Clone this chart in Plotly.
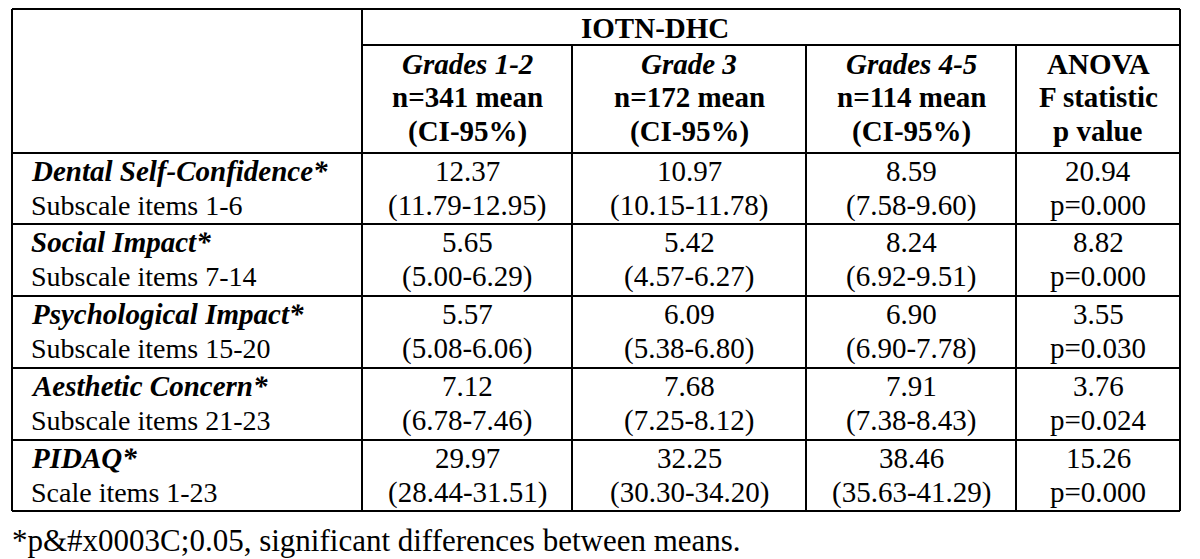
import plotly.graph_objects as go

# ---- data ----
categories = ["Dental Self-Confidence*", "Social Impact*", "Psychological Impact*",
              "Aesthetic Concern*", "PIDAQ*"]
subtitles = ["Subscale items 1-6", "Subscale items 7-14", "Subscale items 15-20",
             "Subscale items 21-23", "Scale items 1-23"]
group_names = ["Grades 1-2", "Grade 3", "Grades 4-5"]
group_n = [341, 172, 114]
means_g12 = [12.37, 5.65, 5.57, 7.12, 29.97]
ci_low_g12 = [11.79, 5.00, 5.08, 6.78, 28.44]
ci_high_g12 = [12.95, 6.29, 6.06, 7.46, 31.51]
means_g3 = [10.97, 5.42, 6.09, 7.68, 32.25]
ci_low_g3 = [10.15, 4.57, 5.38, 7.25, 30.30]
ci_high_g3 = [11.78, 6.27, 6.80, 8.12, 34.20]
means_g45 = [8.59, 8.24, 6.90, 7.91, 38.46]
ci_low_g45 = [7.58, 6.92, 6.90, 7.38, 35.63]
ci_high_g45 = [9.60, 9.51, 7.78, 8.43, 41.29]
f_stat = [20.94, 8.82, 3.55, 3.76, 15.26]
p_values = ["0.000", "0.000", "0.030", "0.024", "0.000"]
super_header = "IOTN-DHC"
anova_header = ["ANOVA", "F statistic", "p value"]
footnote = "*p&amp;#x0003C;0.05, significant differences between means."

# ---- layout geometry (page pixels) ----
W, H = 1200, 559
x_left, x_right = 12, 1180
col_x = [362, 572, 806, 1016]
col_centers = [467, 689, 911, 1098]
y_top, y_sub, y_head = 9, 45, 153
row_lines = [153, 224, 296, 368, 440, 511]
y_bottom = 511

FONT = "Liberation Serif, Times New Roman, serif"
FS_BODY = 28
FS_NUM = 29
FS_HEAD = 29
FS_GROUP = 29
FS_CAT = 29
FS_NOTE = 31
LW = 2

fig = go.Figure()
fig.add_trace(go.Scatter(x=[0, W], y=[0, H], mode="markers",
                         marker=dict(opacity=0), hoverinfo="skip", showlegend=False))

shapes = []
def line(x0, y0, x1, y1, w=LW):
    shapes.append(dict(type="line", xref="x", yref="y", x0=x0, y0=y0, x1=x1, y1=y1,
                       line=dict(color="black", width=w)))

# outer border
line(x_left, y_top, x_right, y_top)
line(x_left, y_bottom, x_right, y_bottom)
line(x_left, y_top, x_left, y_bottom)
line(x_right, y_top, x_right, y_bottom)
# internal
line(col_x[0], y_top, col_x[0], y_bottom)
for cx in col_x[1:]:
    line(cx, y_sub, cx, y_bottom)
line(col_x[0], y_sub, x_right, y_sub)
for ry in row_lines[:-1]:
    line(x_left, ry, x_right, ry)

ann = []
def text(x, y, s, size, anchor="center", bold=False, italic=False):
    if bold:
        s = "<b>" + s + "</b>"
    if italic:
        s = "<i>" + s + "</i>"
    ann.append(dict(x=x, y=y, xref="x", yref="y", text=s, showarrow=False,
                    xanchor=anchor, yanchor="middle", borderpad=0,
                    font=dict(family=FONT, size=size, color="black")))

# headers
text(655, 28, super_header, FS_HEAD, bold=True)
head_y = [64, 97, 131]
for i, (gname, n) in enumerate(zip(group_names, group_n)):
    cx = col_centers[i]
    text(cx, head_y[0], gname, FS_GROUP, bold=True, italic=True)
    text(cx, head_y[1], f"n={n} mean", FS_HEAD, bold=True)
    text(cx, head_y[2], "(CI-95%)", FS_HEAD, bold=True)
for j, s in enumerate(anova_header):
    text(col_centers[3], head_y[j], s, FS_HEAD, bold=True)

# body
groups = [(means_g12, ci_low_g12, ci_high_g12),
          (means_g3, ci_low_g3, ci_high_g3),
          (means_g45, ci_low_g45, ci_high_g45)]
for r in range(len(categories)):
    top = row_lines[r]
    y1, y2 = top + 18, top + 52
    text(30, y1, categories[r], FS_CAT, anchor="left", bold=True, italic=True)
    text(30, y2, subtitles[r], FS_BODY, anchor="left")
    for g, (m, lo, hi) in enumerate(groups):
        text(col_centers[g], y1, f"{m[r]:.2f}", FS_NUM)
        text(col_centers[g], y2, f"({lo[r]:.2f}-{hi[r]:.2f})", FS_NUM)
    text(col_centers[3], y1, f"{f_stat[r]:.2f}", FS_NUM)
    text(col_centers[3], y2, f"p={p_values[r]}", FS_NUM)

text(11, 540, footnote, FS_NOTE, anchor="left")

fig.update_layout(
    width=W, height=H, margin=dict(l=0, r=0, t=0, b=0),
    paper_bgcolor="white", plot_bgcolor="white",
    xaxis=dict(range=[0, W], visible=False, fixedrange=True),
    yaxis=dict(range=[H, 0], visible=False, fixedrange=True),
    shapes=shapes, annotations=ann, showlegend=False,
)
fig.write_html("out.html", config={"displayModeBar": False},
               post_script="document.body.style.margin='0';document.body.style.overflow='hidden';")
